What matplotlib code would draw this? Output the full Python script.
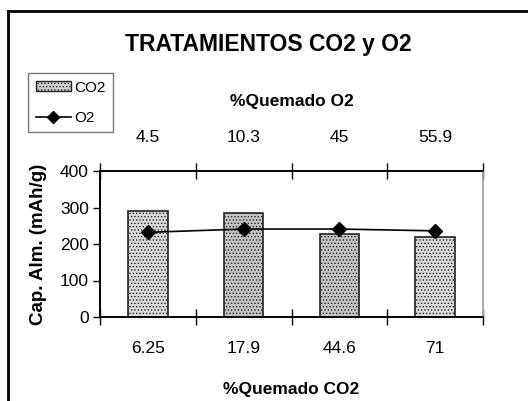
import matplotlib
matplotlib.use("Agg")
import matplotlib.pyplot as plt
from matplotlib.patches import Rectangle
from matplotlib.lines import Line2D
import numpy as np

plt.rcParams['font.family'] = ['Liberation Sans', 'DejaVu Sans']
plt.rcParams['hatch.linewidth'] = 0.6

# Data
quemado_co2 = ["6.25", "17.9", "44.6", "71"]
quemado_o2 = ["4.5", "10.3", "45", "55.9"]
cap_co2 = [291, 284, 227, 218]
cap_o2 = [232, 241, 241, 236]
y_ticks = [0, 100, 200, 300, 400]

fig = plt.figure(figsize=(5.28, 4.01), dpi=100)
fig.patch.set_facecolor('white')

# outer chart frame (top and left edges)
fig.add_artist(Line2D([8/528, 1.0], [1 - 11/401, 1 - 11/401], color='black', lw=2,
                      transform=fig.transFigure))
fig.add_artist(Line2D([8/528, 8/528], [0, 1 - 11/401], color='black', lw=2,
                      transform=fig.transFigure))

ax = fig.add_axes([100/528, 1 - 317/401, 383/528, 146/401])
x = np.arange(len(cap_co2))
bar_colors = ['#dadada', '#c4c4c4', '#c4c4c4', '#dadada']
for xi, v, c in zip(x, cap_co2, bar_colors):
    ax.bar(xi, v, width=0.41, color=c, edgecolor='#222222', linewidth=1.2,
           hatch='.....', zorder=2)
ax.plot(x, cap_o2, color='black', lw=1.2, marker='D', markersize=7, zorder=3)

ax.set_xlim(-0.5, 3.5)
ax.set_ylim(0, 400)
ax.set_yticks(y_ticks)
ax.tick_params(axis='y', direction='out', length=5, width=1, labelsize=12.5, pad=3)

# bottom axis: boundary ticks, category labels centred
ax.set_xticks(np.arange(-0.5, 4.0, 1.0))
ax.set_xticklabels([])
ax.set_xticks(x, minor=True)
ax.set_xticklabels(quemado_co2, minor=True, fontsize=12.5)
ax.tick_params(axis='x', which='major', direction='inout', length=11, width=1)
ax.tick_params(axis='x', which='minor', length=0, pad=17)
ax.set_xlabel('%Quemado CO2', fontsize=12.5, fontweight='bold', labelpad=19)

# top axis for O2 burn percentage
top = ax.twiny()
top.set_xlim(ax.get_xlim())
top.set_xticks(np.arange(-0.5, 4.0, 1.0))
top.set_xticklabels([])
top.set_xticks(x, minor=True)
top.set_xticklabels(quemado_o2, minor=True, fontsize=12.5)
top.tick_params(axis='x', which='major', direction='inout', length=11, width=1)
top.tick_params(axis='x', which='minor', length=0, pad=19)
top.set_xlabel('%Quemado O2', fontsize=12.5, fontweight='bold', labelpad=17)

for a in (ax, top):
    a.spines['left'].set_color('black')
    a.spines['top'].set_color('black')
    a.spines['bottom'].set_color('black')
    a.spines['right'].set_color('#aaaaaa')
    for s in a.spines.values():
        s.set_linewidth(1.2)

ax.set_ylabel('Cap. Alm. (mAh/g)', fontsize=13.5, fontweight='bold', labelpad=9)

fig.text(268/528, 1 - 44/401, 'TRATAMIENTOS CO2 y O2', fontsize=16.5,
         fontweight='bold', ha='center', va='center')

# legend
handles = [Rectangle((0, 0), 1, 1, facecolor='#d0d0d0', edgecolor='#222222',
                     hatch='.....', linewidth=1),
           Line2D([], [], color='black', lw=1.2, marker='D', markersize=6)]
leg = fig.legend(handles, ['CO2', 'O2'], loc='upper left',
                 bbox_to_anchor=(28/528, 1 - 73/401), fontsize=11,
                 frameon=True, fancybox=False, edgecolor='#555555',
                 handlelength=2.3, handleheight=0.6, handletextpad=0.2,
                 borderpad=0.5, labelspacing=1.05, borderaxespad=0)
leg.get_frame().set_linewidth(1)

fig.savefig('out.png', dpi=100)
